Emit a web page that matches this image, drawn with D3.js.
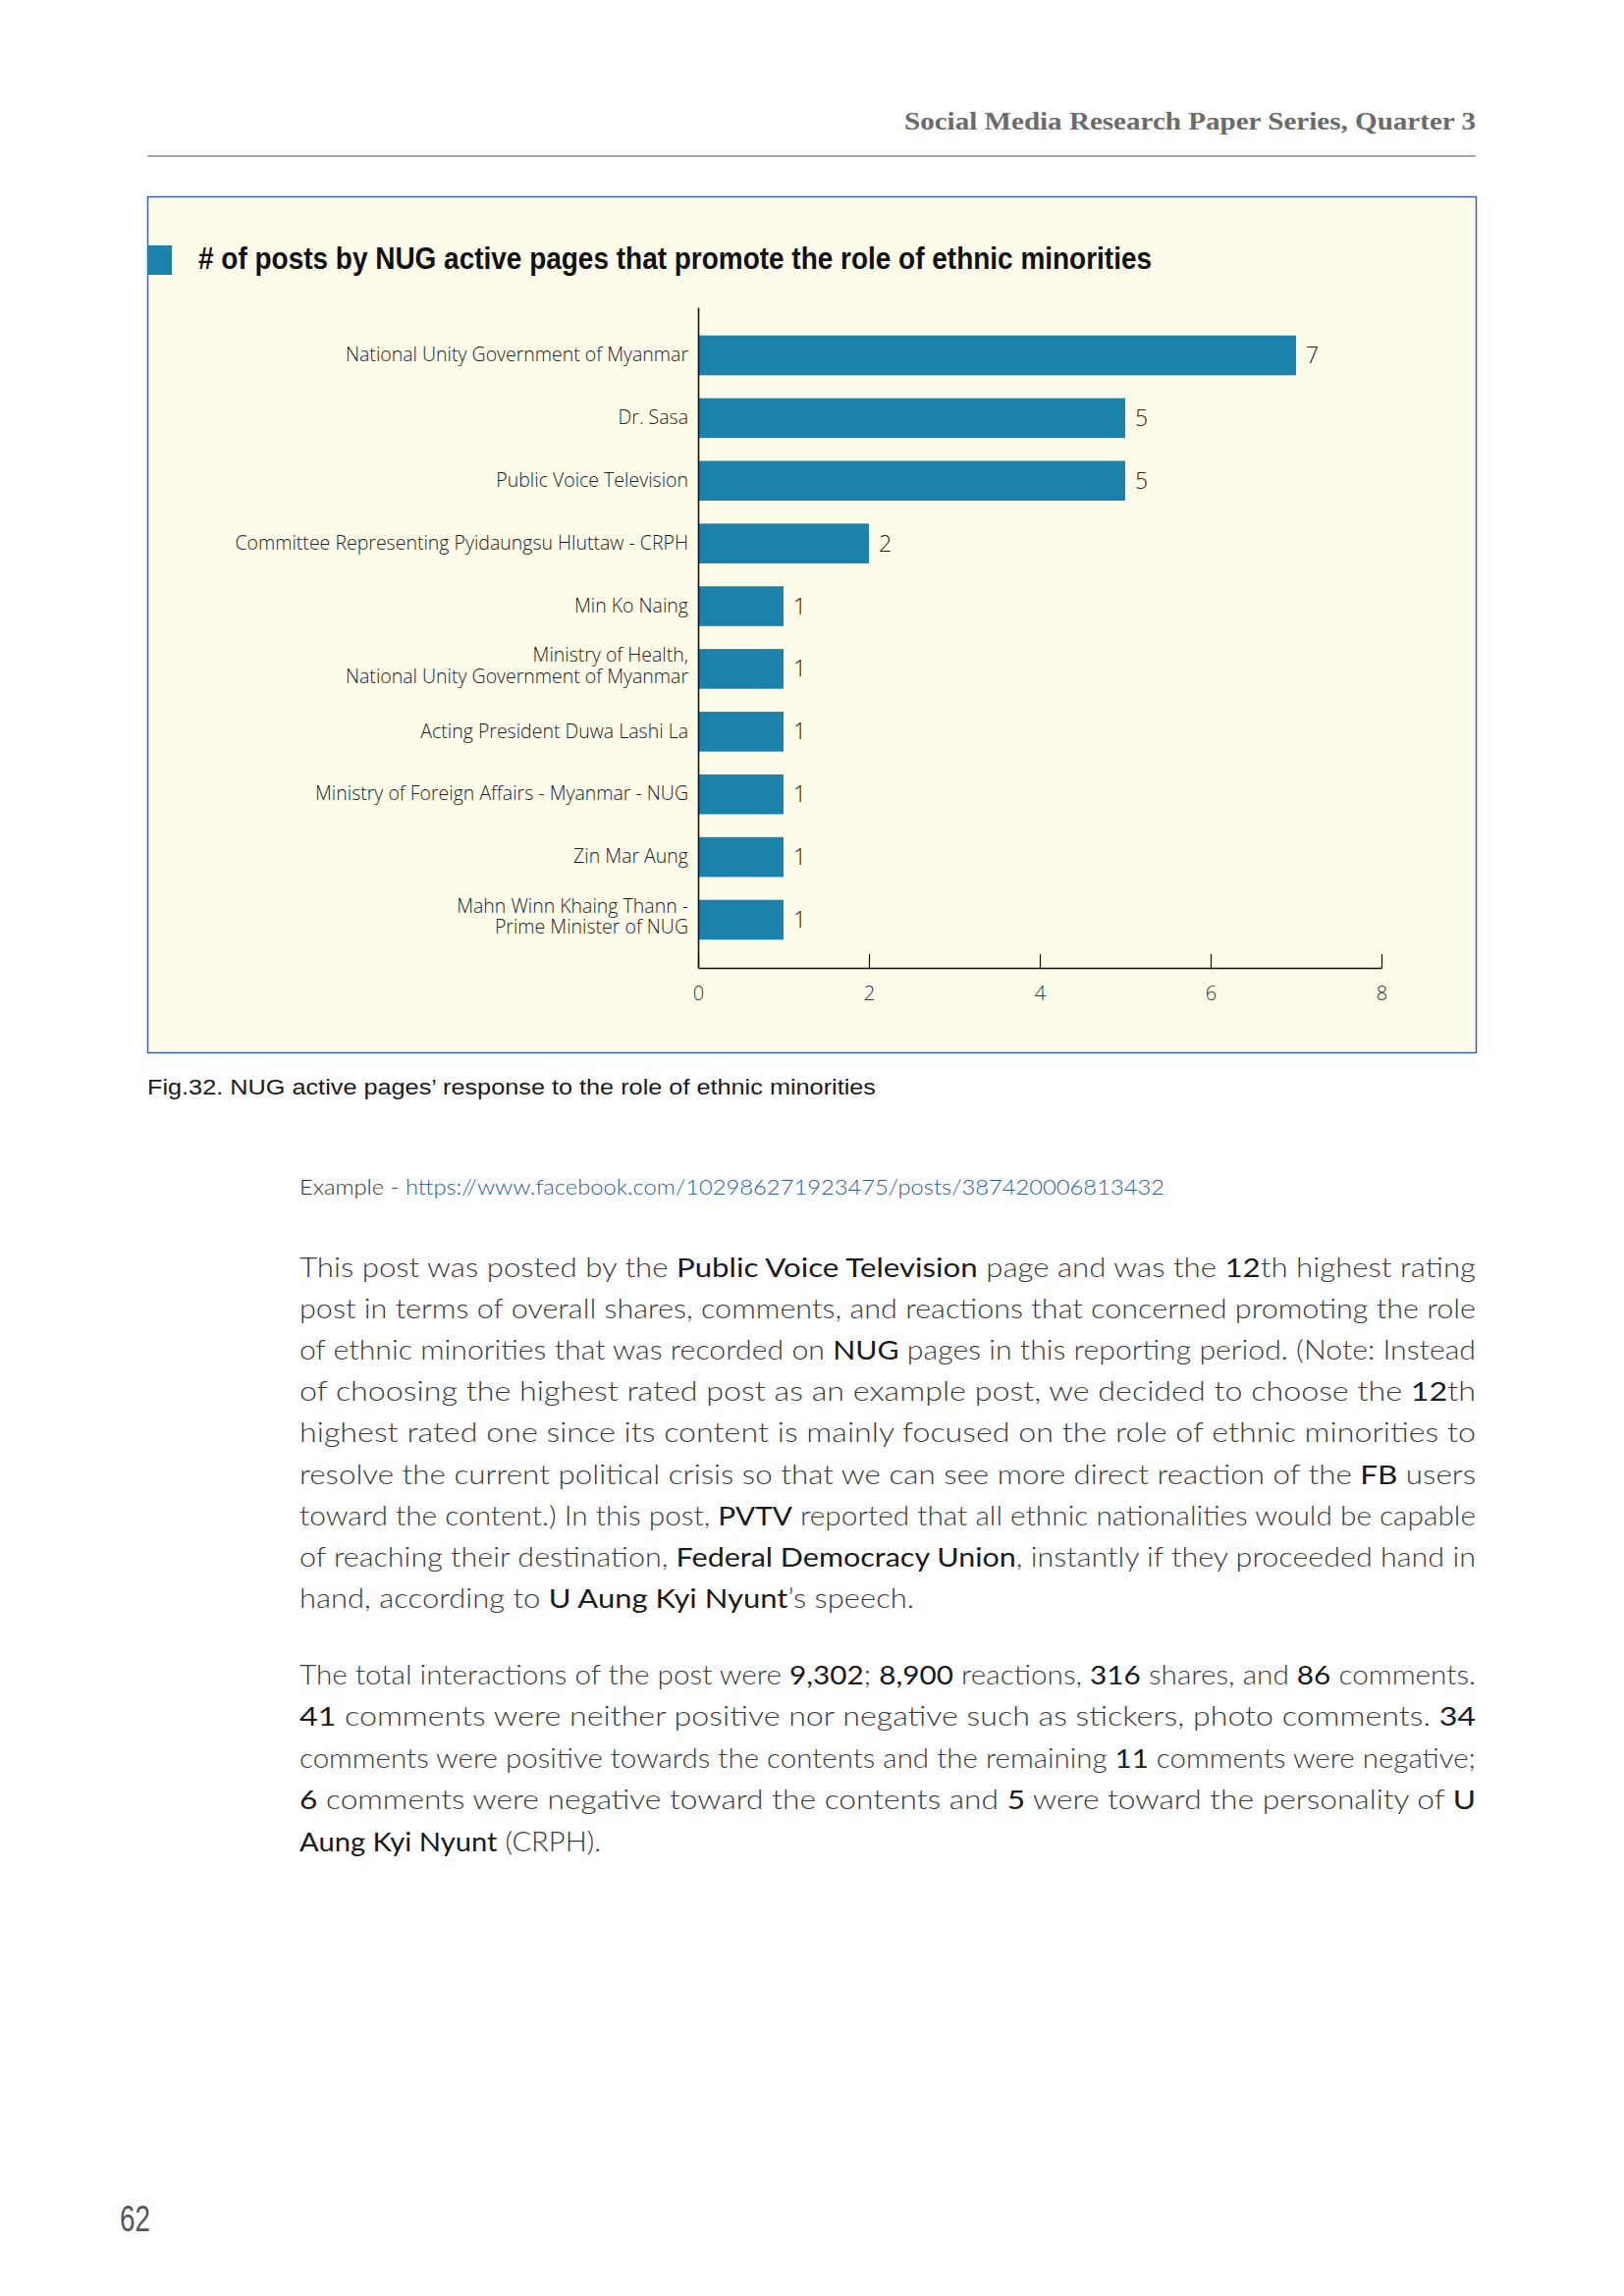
<!DOCTYPE html>
<html>
<head>
<meta charset="utf-8">
<script src="https://cdn.jsdelivr.net/npm/d3@7"></script>
<style>
  body { margin: 0; background: #fff; }
</style>
</head>
<body>
<div id="page"></div>
<script>
// chart data
var categories = [
  "National Unity Government of Myanmar",
  "Dr. Sasa",
  "Public Voice Television",
  "Committee Representing Pyidaungsu Hluttaw - CRPH",
  "Min Ko Naing",
  "Ministry of Health,\nNational Unity Government of Myanmar",
  "Acting President Duwa Lashi La",
  "Ministry of Foreign Affairs - Myanmar - NUG",
  "Zin Mar Aung",
  "Mahn Winn Khaing Thann -\nPrime Minister of NUG"
];
var values = [7, 5, 5, 2, 1, 1, 1, 1, 1, 1];
var xTicks = [0, 2, 4, 6, 8];

var chartTitle = "# of posts by NUG active pages that promote the role of ethnic minorities";
var caption = "Fig.32. NUG active pages\u2019 response to the role of ethnic minorities";

// page text, [..] marks the darker words
var para1 = [
  "This post was posted by the [Public Voice Television] page and was the [12]th highest rating",
  "post in terms of overall shares, comments, and reactions that concerned promoting the role",
  "of ethnic minorities that was recorded on [NUG] pages in this reporting period. (Note: Instead",
  "of choosing the highest rated post as an example post, we decided to choose the [12]th",
  "highest rated one since its content is mainly focused on the role of ethnic minorities to",
  "resolve the current political crisis so that we can see more direct reaction of the [FB] users",
  "toward the content.) In this post, [PVTV] reported that all ethnic nationalities would be capable",
  "of reaching their destination, [Federal Democracy Union], instantly if they proceeded hand in",
  "hand, according to [U Aung Kyi Nyunt]\u2019s speech."
];
var para2 = [
  "The total interactions of the post were [9,302]; [8,900] reactions, [316] shares, and [86] comments.",
  "[41] comments were neither positive nor negative such as stickers, photo comments. [34]",
  "comments were positive towards the contents and the remaining [11] comments were negative;",
  "[6] comments were negative toward the contents and [5] were toward the personality of [U]",
  "[Aung Kyi Nyunt] (CRPH)."
];

var W = 1654, H = 2339;
var blue = "#1b82ab";

var svg = d3.select("#page")
  .append("svg")
    .attr("width", W)
    .attr("height", H)
    .style("display", "block");

svg.append("rect").attr("width", W).attr("height", H).attr("fill", "#fff");

// running header
svg.append("text")
  .attr("x", 1503).attr("y", 132)
  .attr("text-anchor", "end")
  .attr("font-family", "'Liberation Serif', serif")
  .attr("font-weight", "bold")
  .attr("font-size", 26)
  .attr("fill", "#6b6b6b")
  .attr("textLength", 582)
  .attr("lengthAdjust", "spacingAndGlyphs")
  .text("Social Media Research Paper Series, Quarter 3");

svg.append("line")
  .attr("x1", 150).attr("x2", 1503)
  .attr("y1", 159).attr("y2", 159)
  .attr("stroke", "#8a8a8a").attr("stroke-width", 1.5);

// chart box
svg.append("rect")
  .attr("x", 150.5).attr("y", 200.5)
  .attr("width", 1353).attr("height", 872)
  .attr("fill", "#fdfbe9")
  .attr("stroke", "#3a66a0").attr("stroke-width", 1.5);

svg.append("rect")
  .attr("x", 150).attr("y", 250)
  .attr("width", 25).attr("height", 30)
  .attr("fill", blue);

svg.append("text")
  .attr("x", 202).attr("y", 274)
  .attr("font-family", "'Liberation Sans Narrow', 'Liberation Sans', Arial, sans-serif")
  .attr("font-weight", "bold")
  .attr("font-size", 32)
  .attr("fill", "#111")
  .attr("textLength", 971)
  .attr("lengthAdjust", "spacingAndGlyphs")
  .text(chartTitle);

// scales
var x = d3.scaleLinear()
  .domain([0, 8])
  .range([711, 1407]);

var y = d3.scaleBand()
  .domain(categories)
  .range([313, 986])
  .paddingInner(0.365)
  .paddingOuter(0.45);

// bars
svg.append("g")
  .selectAll("rect")
  .data(values)
  .enter()
  .append("rect")
    .attr("x", x(0))
    .attr("y", function(d, i) { return y(categories[i]); })
    .attr("width", function(d) { return x(d) - x(0); })
    .attr("height", y.bandwidth())
    .attr("fill", blue);

// value labels
svg.append("g")
  .selectAll("text")
  .data(values)
  .enter()
  .append("text")
    .attr("x", function(d) { return x(d) + 10; })
    .attr("y", function(d, i) { return y(categories[i]) + y.bandwidth() / 2; })
    .attr("dy", "0.35em")
    .attr("font-family", "'Open Sans', sans-serif")
    .attr("font-weight", 300)
    .attr("font-size", 23)
    .attr("fill", "#222")
    .text(function(d) { return d; });

// X axis, ticks pointing up
var xAxis = svg.append("g")
  .attr("transform", "translate(0,986)")
  .call(d3.axisBottom(x).tickValues(xTicks).tickSizeInner(-14).tickSizeOuter(0).tickPadding(19));
xAxis.select(".domain").attr("stroke", "#111").attr("stroke-width", 1.6);
xAxis.selectAll(".tick line").attr("stroke", "#111").attr("stroke-width", 1.2);
xAxis.selectAll(".tick text")
  .attr("font-family", "'Open Sans', sans-serif")
  .attr("font-weight", 300)
  .attr("font-size", 20)
  .attr("fill", "#333");

// Y axis with category labels
var yAxis = svg.append("g")
  .attr("transform", "translate(711,0)")
  .call(d3.axisLeft(y).tickSize(0).tickPadding(10).tickSizeOuter(0));
yAxis.select(".domain").attr("stroke", "#111").attr("stroke-width", 1.6);
yAxis.selectAll(".tick text")
  .attr("font-family", "'Open Sans', sans-serif")
  .attr("font-weight", 300)
  .attr("font-size", 19.5)
  .attr("fill", "#222")
  .each(function(d) {
    var parts = d.split("\n");
    if (parts.length < 2) return;
    var t = d3.select(this).text(null).attr("dy", null);
    parts.forEach(function(p, k) {
      t.append("tspan")
        .attr("x", -10)
        .attr("dy", k === 0 ? "-0.38em" : "1.11em")
        .text(p);
    });
  });

// caption
svg.append("text")
  .attr("x", 150).attr("y", 1115)
  .attr("font-family", "'Liberation Sans', Arial, sans-serif")
  .attr("font-size", 22)
  .attr("fill", "#1a1a1a")
  .attr("textLength", 742)
  .attr("lengthAdjust", "spacingAndGlyphs")
  .text(caption);

// example link line
var ex = svg.append("text")
  .attr("x", 305).attr("y", 1217)
  .attr("font-family", "Lato, sans-serif")
  .attr("font-weight", 300)
  .attr("font-size", 21)
  .attr("textLength", 881)
  .attr("lengthAdjust", "spacingAndGlyphs");
ex.append("tspan").attr("fill", "#333").text("Example - ");
ex.append("tspan").attr("fill", "#2b5d9c").text("https://www.facebook.com/102986271923475/posts/387420006813432");

// body paragraphs
function drawPara(lines, y0, step, lastWidth) {
  lines.forEach(function(line, i) {
    var t = svg.append("text")
      .attr("x", 305).attr("y", y0 + i * step)
      .attr("font-family", "Lato, sans-serif")
      .attr("font-size", 27.5)
      .attr("font-weight", 300)
      .attr("fill", "#3a3a3a")
      .attr("lengthAdjust", "spacingAndGlyphs")
      .attr("textLength", i < lines.length - 1 ? 1198 : lastWidth);
    line.split(/(\[[^\]]*\])/).forEach(function(seg) {
      if (!seg) return;
      if (seg[0] === "[") {
        t.append("tspan").attr("font-weight", 400).attr("fill", "#1a1a1a").text(seg.slice(1, -1));
      } else {
        t.append("tspan").text(seg);
      }
    });
  });
}
drawPara(para1, 1301, 42.1, 626);
drawPara(para2, 1716, 42.4, 307);

// page number
svg.append("text")
  .attr("x", 122).attr("y", 2273)
  .attr("font-family", "'Liberation Sans Narrow', 'Liberation Sans', sans-serif")
  .attr("font-size", 36)
  .attr("fill", "#555")
  .attr("textLength", 31)
  .attr("lengthAdjust", "spacingAndGlyphs")
  .text("62");
</script>
</body>
</html>
